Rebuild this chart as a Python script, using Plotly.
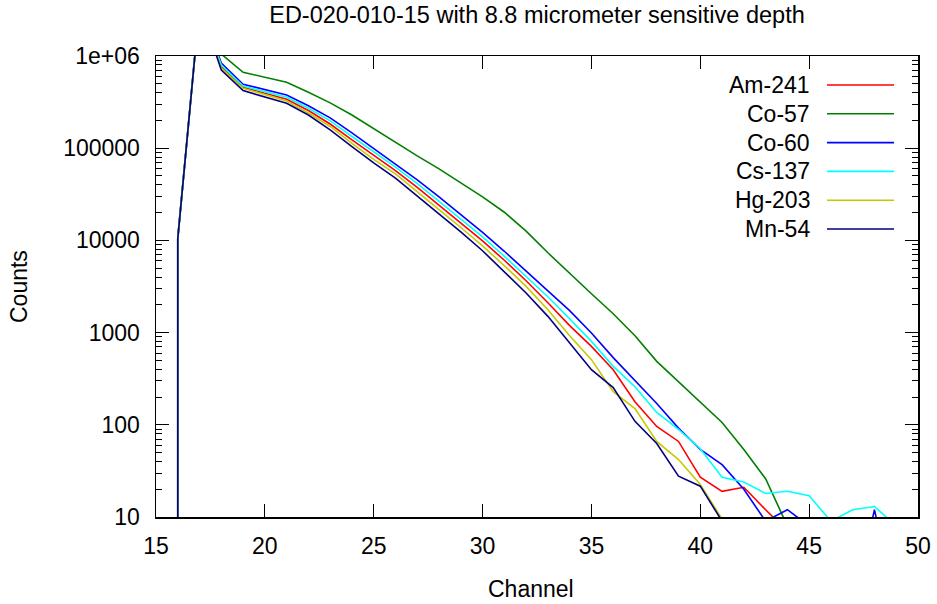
import plotly.graph_objects as go

# channel axis (first entry repeats channel 16: counts below threshold, then the edge)
channels = [16, 16, 17, 18, 19, 20, 21, 22, 23, 24, 25, 26, 27, 28, 29, 30, 31, 32, 33,
            34, 35, 36, 37, 38, 39, 40, 41, 42, 43, 44, 45, 46, 47, 48, 49]

am241 = [1, 10400, 3500000, 769000, 458000, 394000, 340000, 256000, 183000, 123000, 83600,
         57200, 37600, 24100, 15500, 9900, 6090, 3650, 2110, 1190, 709, 396, 178, 96, 66,
         27, 19, 21, 12, 7, 3, 2, 1, 1, 1]
co57 = [1, 10800, 3600000, 1050000, 666000, 592000, 519000, 404000, 310000, 229000, 162000,
        117000, 82500, 59700, 42100, 29700, 20200, 12600, 7340, 4350, 2640, 1600, 925, 488,
        294, 178, 106, 54, 26, 8, 3, 1, 1, 1, 1]
co60 = [1, 10400, 3500000, 840000, 494000, 431000, 378000, 289000, 213000, 146500, 99500,
        67600, 45400, 29700, 19200, 12200, 7620, 4690, 2840, 1730, 990, 535, 301, 170, 92,
        54, 37, 20, 9, 12, 8, 3, 1, 12, 1]
cs137 = [1, 10400, 3500000, 799000, 473000, 410000, 357000, 271000, 198000, 134000, 91200,
         62300, 41400, 26700, 17100, 10900, 6720, 4060, 2450, 1410, 803, 430, 259, 136, 89,
         55, 27, 24, 18, 19, 17, 9, 12, 13, 8]
hg203 = [1, 10400, 3500000, 741000, 447000, 381000, 325000, 241000, 172000, 113000, 75600,
         52700, 34000, 21600, 13800, 8740, 5310, 3170, 1770, 925, 509, 229, 150, 66, 42,
         22.5, 9.5, 3, 1, 1, 1, 1, 1, 1, 1]
mn54 = [1, 10400, 3500000, 705000, 421000, 360000, 307000, 229000, 158000, 104000, 69300,
        47300, 30400, 19600, 12400, 7720, 4570, 2690, 1500, 777, 396, 253, 109, 62.6, 27.7,
        21.6, 9, 2, 1, 1, 1, 1, 1, 1, 1]

series_names = ["Am-241", "Co-57", "Co-60", "Cs-137", "Hg-203", "Mn-54"]
series_values = [am241, co57, co60, cs137, hg203, mn54]
series_colors = ["#ff0000", "#008000", "#0000ff", "#00ffff", "#c8c800", "#000080"]

x_ticks = [15, 20, 25, 30, 35, 40, 45, 50]
y_ticks = [10, 100, 1000, 10000, 100000, 1000000]
y_tick_text = ["10", "100", "1000", "10000", "100000", "1e+06"]

FONT = "Liberation Sans, Arial, sans-serif"
FS = 23

fig = go.Figure()
for name, vals, col in zip(series_names, series_values, series_colors):
    fig.add_trace(go.Scatter(x=channels, y=vals, mode="lines", name=name,
                             line=dict(color=col, width=1.6), showlegend=False))

W, H = 937, 604
ml, mr, mt, mb = 156, 19, 56, 87
pw, ph = W - ml - mr, H - mt - mb


def px2paper(px, py):
    return (px - ml) / pw, (H - mb - py) / ph


# gnuplot-style key: text right-aligned, line sample to its right
for i, (name, col) in enumerate(zip(series_names, series_colors)):
    py = 85 + i * 28.8
    tx, ty = px2paper(812, py)
    fig.add_annotation(x=tx, y=ty, xref="paper", yref="paper", text=name,
                       showarrow=False, xanchor="right", yanchor="middle",
                       font=dict(family=FONT, size=FS, color="black"))
    x0, _ = px2paper(827, py)
    x1, _ = px2paper(894, py)
    fig.add_shape(type="line", xref="paper", yref="paper", x0=x0, x1=x1, y0=ty, y1=ty,
                  line=dict(color=col, width=1.6))

cx, cy = px2paper(531, 589)
fig.add_annotation(x=cx, y=cy, xref="paper", yref="paper", text="Channel", showarrow=False,
                   xanchor="center", yanchor="middle", font=dict(family=FONT, size=FS, color="black"))
cx, cy = px2paper(19, 287)
fig.add_annotation(x=cx, y=cy, xref="paper", yref="paper", text="Counts", showarrow=False,
                   textangle=-90, xanchor="center", yanchor="middle",
                   font=dict(family=FONT, size=FS, color="black"))

fig.update_layout(
    width=W, height=H,
    margin=dict(l=ml, r=mr, t=mt, b=mb, pad=0, autoexpand=False),
    paper_bgcolor="white", plot_bgcolor="white",
    font=dict(family=FONT, size=FS, color="black"),
    title=dict(text="ED-020-010-15 with 8.8 micrometer sensitive depth",
               x=0.5, xref="paper", xanchor="center", y=1 - 15 / H, yanchor="middle",
               font=dict(family=FONT, size=23.5, color="black")),
    xaxis=dict(range=[15, 50], tickvals=x_ticks, ticktext=[str(v) for v in x_ticks],
               ticks="inside", ticklen=13, tickwidth=1, tickcolor="black",
               showline=True, linecolor="black", linewidth=1.5, mirror="ticks",
               showgrid=False, zeroline=False, ticklabelstandoff=8, automargin=False),
    yaxis=dict(type="log", range=[1, 6], tickvals=y_ticks, ticktext=y_tick_text,
               ticks="inside", ticklen=13, tickwidth=1, tickcolor="black",
               showline=True, linecolor="black", linewidth=1.5, mirror="ticks",
               showgrid=False, zeroline=False, ticklabelstandoff=10, automargin=False,
               minor=dict(ticks="inside", ticklen=6, tickwidth=1, tickcolor="black",
                          dtick="D1", showgrid=False)),
)

fig.write_html("out.html", config={"displayModeBar": False, "staticPlot": True},
               post_script="document.body.style.margin='0';document.body.style.overflow='hidden';")
